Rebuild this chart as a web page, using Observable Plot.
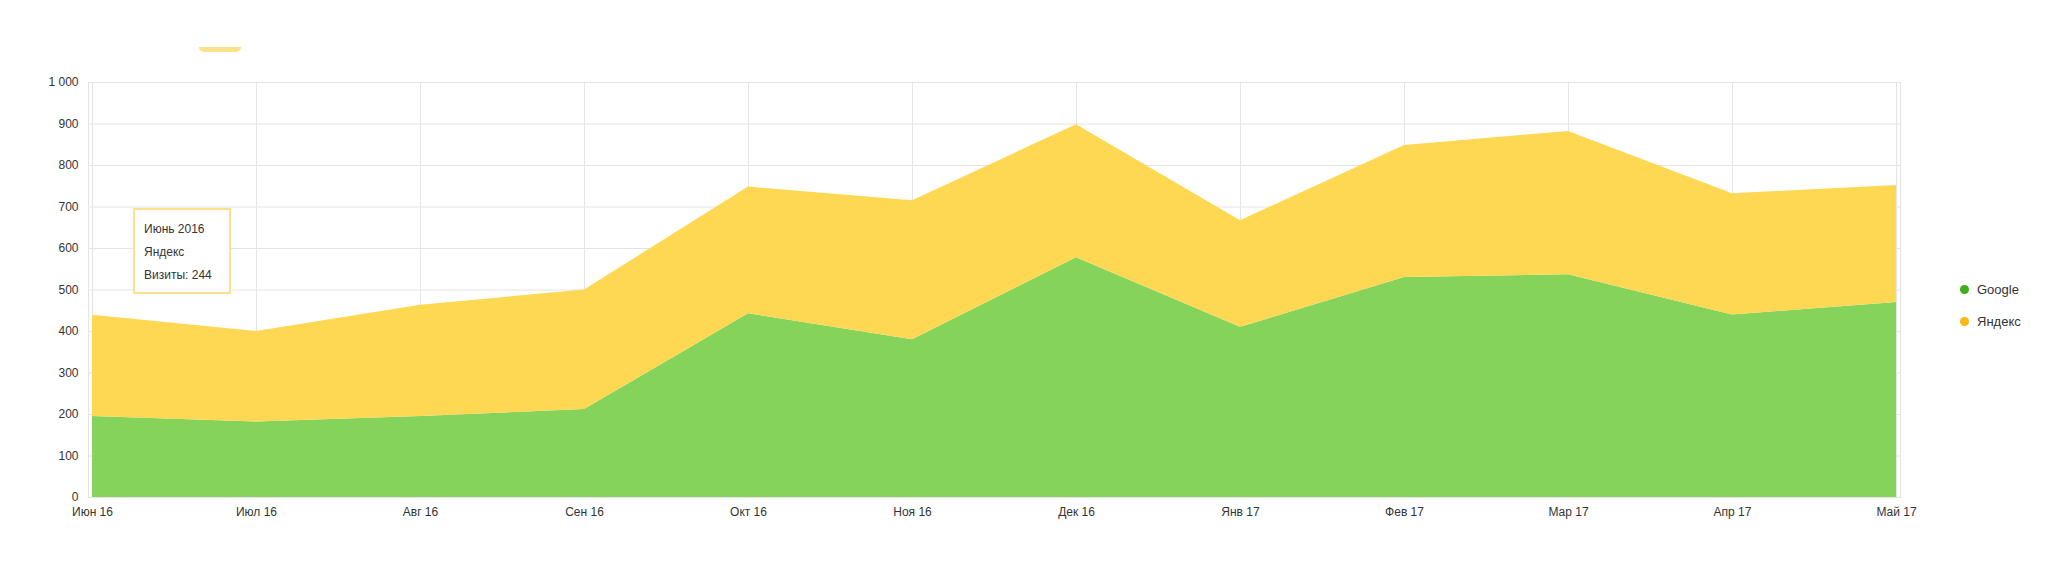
<!DOCTYPE html>
<html><head><meta charset="utf-8">
<script src="https://cdn.jsdelivr.net/npm/d3@7"></script>
<script src="https://cdn.jsdelivr.net/npm/@observablehq/plot@0.6"></script>
<style>
body{margin:0;background:#fff;font-family:"Liberation Sans",Arial,sans-serif;}
#chart{position:relative;width:2064px;height:576px;}
.tip{position:absolute;left:133px;top:208px;width:98px;height:86px;border:2px solid #fde08a;background:#fff;font-size:12px;color:#333;box-sizing:border-box;padding:8px 0 0 9px;line-height:23px}
.leg{position:absolute;left:1960px;font-size:13px;color:#333}
.leg span{display:inline-block;width:9px;height:9px;border-radius:50%;margin-right:8px}
.pill{position:absolute;left:199px;top:47px;width:42px;height:5px;border-radius:0 0 6px 6px;background:#fde08a}
</style></head><body>
<div id="chart"></div>
<script>
const months = ["Июн 16","Июл 16","Авг 16","Сен 16","Окт 16","Ноя 16","Дек 16","Янв 17","Фев 17","Мар 17","Апр 17","Май 17"]
const google = [195,182,195,212,443,380,578,410,530,537,440,470]
const yandex = [244,218,268,288,305,335,320,257,318,345,292,282]
const seriesNames = ["Google","Яндекс"]
const colors = ["#86d35c","#fed853"]

let data = []
months.forEach((m, i) => {
  data.push({month: m, series: "Google", value: google[i]})
  data.push({month: m, series: "Яндекс", value: yandex[i]})
})

const chart = Plot.plot({
  width: 2064, height: 576,
  marginLeft: 88, marginRight: 164, marginTop: 82, marginBottom: 79,
  style: {fontFamily: "Liberation Sans, Arial, sans-serif", fontSize: "12px", color: "#333"},
  x: {type: "point", domain: months, padding: 0, label: null, tickSize: 0, tickPadding: 10},
  y: {domain: [0, 1000], ticks: d3.range(0, 1001, 100), tickFormat: d => d == 1000 ? "1 000" : d, label: null, tickSize: 0, tickPadding: 10},
  color: {domain: seriesNames, range: colors},
  marks: [
    Plot.gridX(months, {stroke: "#e4e4e4", strokeOpacity: 1}),
    Plot.gridY(d3.range(0, 1001, 100), {stroke: "#e4e4e4", strokeOpacity: 1}),
    Plot.frame({stroke: "#e4e4e4"}),
    Plot.areaY(data, {x: "month", y: "value", fill: "series", order: seriesNames, z: "series"}),
  ]
})
document.querySelector('#chart').append(chart)
d3.select('#chart').append('div').attr('class','pill')
d3.select('#chart').append('div').attr('class','tip').html('Июнь 2016<br>Яндекс<br>Визиты: 244')
seriesNames.forEach((s, i) => {
  d3.select('#chart').append('div').attr('class','leg').style('top', (282 + i*32) + 'px')
    .html(`<span style="background:${i==0?'#3fae1c':'#fdb813'}"></span>${s}`)
})
</script>
</body></html>
